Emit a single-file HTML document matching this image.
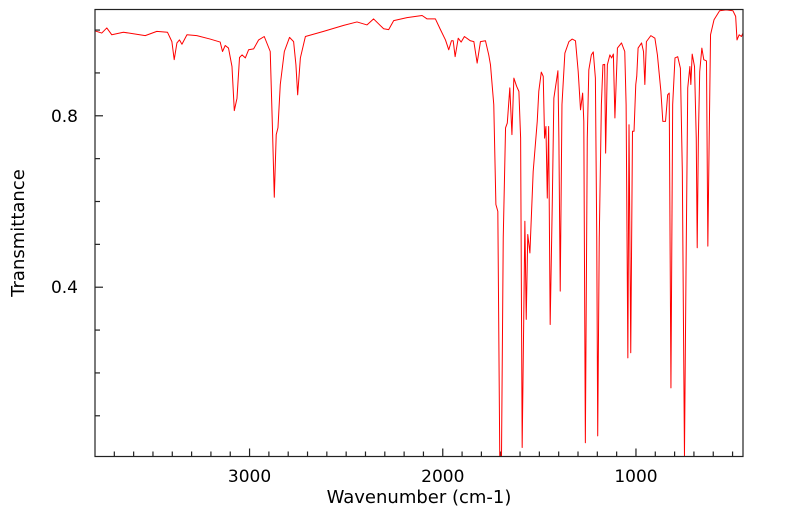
<!DOCTYPE html>
<html><head><meta charset="utf-8"><style>
html,body{margin:0;padding:0;background:#fff;}
svg text{font-family:"DejaVu Sans","Liberation Sans",sans-serif;fill:#000;}
</style></head><body>
<svg id="chart" width="799" height="516" viewBox="0 0 799 516" xmlns="http://www.w3.org/2000/svg">
<g id="ticks"></g>
<g id="labels"></g>
<path id="spectrum" fill="none" stroke="#ff0000" stroke-width="1" stroke-linejoin="round"/>
<rect x="95" y="9.5" width="648" height="447" fill="none" stroke="#222" stroke-width="1.2"/>
<text x="419" y="503" font-size="18" text-anchor="middle">Wavenumber (cm-1)</text>
<text x="24" y="233" font-size="18" text-anchor="middle" transform="rotate(-90 24 233)">Transmittance</text>
</svg>
<script>
const wavenumbers=[3799,3765,3739,3713,3653,3540,3480,3425,3402,3390,3376,3363,3350,3324,3273,3204,3152,3140,3126,3109,3091,3079,3065,3052,3039,3022,3005,2979,2953,2924,2893,2882,2872,2862,2853,2841,2820,2793,2772,2760,2751,2737,2711,2617,2513,2444,2392,2358,2306,2280,2254,2185,2107,2081,2038,2012,1986,1969,1955,1946,1936,1920,1905,1888,1857,1839,1822,1805,1779,1762,1753,1736,1725,1715,1705,1696,1687,1675,1666,1653,1642,1632,1618,1606,1597,1589,1580,1575,1568,1560,1549,1532,1511,1503,1490,1480,1473,1466,1459,1452,1444,1433,1425,1404,1399,1392,1383,1368,1347,1330,1313,1299,1287,1276,1270,1262,1252,1244,1231,1221,1210,1203,1198,1190,1179,1171,1162,1157,1148,1135,1126,1117,1109,1096,1075,1058,1051,1042,1036,1027,1018,1010,1001,996,989,971,961,954,946,923,902,889,871,861,847,836,828,819,810,798,784,770,760,749,741,732,721,716,709,697,688,683,677,670,659,649,635,628,621,614,596,567,533,498,484,477,466,454,446];
const transmittance=[0.998,0.993,1.005,0.989,0.995,0.987,0.997,0.995,0.973,0.931,0.970,0.977,0.967,0.989,0.987,0.979,0.972,0.950,0.964,0.958,0.915,0.812,0.841,0.936,0.942,0.935,0.954,0.956,0.977,0.985,0.950,0.779,0.610,0.756,0.772,0.873,0.950,0.983,0.973,0.919,0.849,0.935,0.985,0.997,1.011,1.019,1.012,1.026,1.003,1.001,1.022,1.029,1.034,1.026,1.026,1.001,0.977,0.954,0.975,0.975,0.938,0.981,0.972,0.985,0.975,0.973,0.923,0.973,0.975,0.942,0.919,0.826,0.593,0.577,0.006,0.006,0.515,0.772,0.783,0.865,0.756,0.888,0.869,0.857,0.748,0.026,0.360,0.554,0.325,0.523,0.480,0.670,0.787,0.857,0.902,0.892,0.748,0.775,0.608,0.775,0.313,0.600,0.841,0.905,0.748,0.391,0.826,0.946,0.973,0.979,0.975,0.903,0.814,0.853,0.787,0.037,0.748,0.907,0.942,0.949,0.888,0.515,0.053,0.515,0.826,0.919,0.920,0.713,0.919,0.942,0.935,0.944,0.795,0.958,0.970,0.950,0.826,0.235,0.779,0.247,0.764,0.764,0.873,0.892,0.958,0.970,0.950,0.873,0.973,0.987,0.981,0.942,0.857,0.787,0.787,0.849,0.853,0.165,0.826,0.935,0.938,0.911,0.670,0.006,0.437,0.865,0.915,0.873,0.944,0.915,0.748,0.492,0.748,0.903,0.958,0.931,0.928,0.496,0.748,0.989,1.024,1.045,1.047,1.045,1.032,0.977,0.989,0.985,0.993];
const xTickLabels=[3000,2000,1000];
const yTickLabels=[0.4,0.8];
const xDomain=[3800,446], yDomain=[0.005,1.048];
const L=95,R=743,T=9.5,B=456.5;
function sx(w){return L+(w-xDomain[0])/(xDomain[1]-xDomain[0])*(R-L);}
function sy(v){return B-(v-yDomain[0])/(yDomain[1]-yDomain[0])*(B-T);}
const NS="http://www.w3.org/2000/svg";
let d="";
for(let i=0;i<wavenumbers.length;i++){d+=(i?"L":"M")+sx(wavenumbers[i]).toFixed(2)+","+sy(transmittance[i]).toFixed(2);}
document.getElementById("spectrum").setAttribute("d",d);
const tg=document.getElementById("ticks"), lg=document.getElementById("labels");
function line(x1,y1,x2,y2,name){const l=document.createElementNS(NS,"line");
l.setAttribute("x1",x1);l.setAttribute("y1",y1);l.setAttribute("x2",x2);l.setAttribute("y2",y2);
l.setAttribute("stroke","#222");l.setAttribute("stroke-width","1.2");


tg.appendChild(l);}
for(let w=3700;w>=500;w-=100){const x=sx(w);const major=w%1000===0;line(x,B,x,B-(major?8:5),major?"x-major-tick":"x-minor-tick");}
for(let k=1;k<=10;k++){const v=k/10;const y=sy(v);if(y<T)continue;const major=Math.abs(v-0.4)<1e-6||Math.abs(v-0.8)<1e-6;line(L,y,L+(major?8:5),y,major?"y-major-tick":"y-minor-tick");}
xTickLabels.forEach(w=>{const t=document.createElementNS(NS,"text");
t.setAttribute("x",sx(w));t.setAttribute("y",482);t.setAttribute("font-size","17");t.setAttribute("text-anchor","middle");t.textContent=w;


lg.appendChild(t);});
yTickLabels.forEach(v=>{const t=document.createElementNS(NS,"text");
t.setAttribute("x",78);t.setAttribute("y",sy(v)+6);t.setAttribute("font-size","17");t.setAttribute("text-anchor","end");t.textContent=v.toFixed(1);


lg.appendChild(t);});
</script>
</body></html>
